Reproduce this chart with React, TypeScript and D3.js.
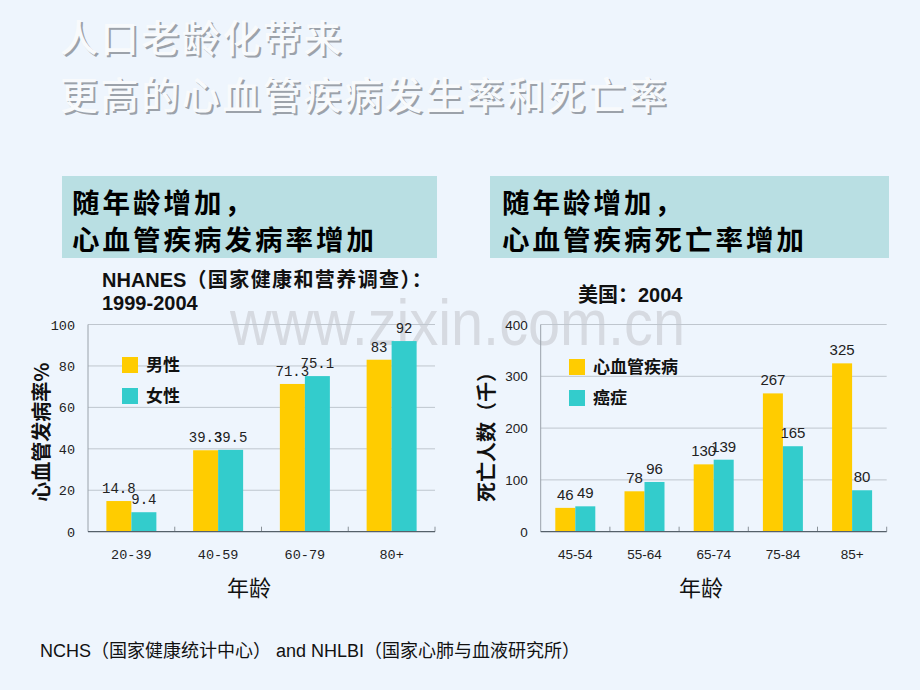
import React from 'react';
import * as d3 from 'd3';

// 左图：心血管发病率 (%)
const ageGroupsA = ['20-39', '40-59', '60-79', '80+'];
const maleRate = [14.8, 39.3, 71.3, 83];
const femaleRate = [9.4, 39.5, 75.1, 92];
const seriesA = ['男性', '女性'];

// 右图：死亡人数（千）
const ageGroupsB = ['45-54', '55-64', '65-74', '75-84', '85+'];
const cvdDeaths = [46, 78, 130, 267, 325];
const cancerDeaths = [49, 96, 139, 165, 80];
const seriesB = ['心血管疾病', '癌症'];

const W = 920;
const H = 690;
const BG = '#EEF5FD';
const YELLOW = '#FFCC00';
const TEAL = '#33CCCC';
const BOX = '#B9DFE3';
const GRID = '#BFC6CE';
const CJK = '"Noto Sans CJK SC", sans-serif';
const SANS = '"Liberation Sans", "Noto Sans CJK SC", sans-serif';
const MONO = '"Liberation Mono", monospace';

interface ChartProps {
  cats: string[];
  a: number[];
  b: number[];
  names: string[];
  yMax: number;
  nTicks: number;
  left: number;
  right: number;
  barW: number;
  numFont: string;
  labelFont: string;
  labelSize: number;
  yTitle: string;
  yTitleX: number;
  xTitleX: number;
  legendX: number;
  legendY: number;
}

const BarChart: React.FC<ChartProps> = (p) => {
  const top = 324.5;
  const bottom = 531.7;
  const x = d3.scaleBand<string>().domain(p.cats).range([p.left, p.right]).padding(0);
  const bw = x.bandwidth();
  const x1 = d3
    .scaleBand<string>()
    .domain(['a', 'b'])
    .range([bw / 2 - p.barW, bw / 2 + p.barW]);
  const y = d3.scaleLinear().domain([0, p.yMax]).range([bottom, top]);
  const ticks = y.ticks(p.nTicks);
  const rows = p.cats.map((c, i) => ({ c, a: p.a[i], b: p.b[i] }));

  return (
    <g>
      {ticks.map((t) => (
        <g key={t}>
          {t > 0 && (
            <line x1={p.left} x2={p.right} y1={y(t)} y2={y(t)} stroke={GRID} strokeWidth={1} />
          )}
          <text
            x={p.left - 13}
            y={y(t) + 5}
            textAnchor="end"
            fontFamily={p.numFont}
            fontSize={13.5}
            fill="#222"
          >
            {t}
          </text>
        </g>
      ))}
      <line x1={p.left} x2={p.left} y1={top} y2={bottom} stroke="#9AA2AA" strokeWidth={1} />
      {rows.map((r) => {
        const x0 = x(r.c)!;
        return (
          <g key={r.c}>
            <rect
              x={x0 + x1('a')!}
              y={y(r.a)}
              width={x1.bandwidth()}
              height={bottom - y(r.a)}
              fill={YELLOW}
            />
            <rect
              x={x0 + x1('b')!}
              y={y(r.b)}
              width={x1.bandwidth()}
              height={bottom - y(r.b)}
              fill={TEAL}
            />
            <text
              x={x0 + x1('a')! + x1.bandwidth() / 2}
              y={y(r.a) - 8}
              textAnchor="middle"
              fontFamily={p.labelFont}
              fontSize={p.labelSize}
              fill="#222"
            >
              {r.a}
            </text>
            <text
              x={x0 + x1('b')! + x1.bandwidth() / 2}
              y={y(r.b) - 8}
              textAnchor="middle"
              fontFamily={p.labelFont}
              fontSize={p.labelSize}
              fill="#222"
            >
              {r.b}
            </text>
            <text
              x={x0 + bw / 2}
              y={559}
              textAnchor="middle"
              fontFamily={p.numFont}
              fontSize={13.5}
              fill="#222"
            >
              {r.c}
            </text>
          </g>
        );
      })}
      {p.cats.map((c, i) =>
        i > 0 ? (
          <line
            key={c}
            x1={x(c)!}
            x2={x(c)!}
            y1={bottom - 5}
            y2={bottom}
            stroke="#8A9299"
            strokeWidth={1}
          />
        ) : null
      )}
      <line x1={p.right} x2={p.right} y1={bottom - 5} y2={bottom} stroke="#8A9299" />
      <line x1={p.left} x2={p.right} y1={bottom} y2={bottom} stroke="#55606A" strokeWidth={1.2} />

      <text
        transform={`translate(${p.yTitleX},${(top + bottom) / 2 + 4}) rotate(-90)`}
        textAnchor="middle"
        fontFamily={CJK}
        fontWeight={700}
        fontSize={20}
        dy={7}
        fill="#111"
      >
        {p.yTitle}
      </text>
      <text x={p.xTitleX} y={596} textAnchor="middle" fontFamily={CJK} fontSize={22} fill="#111">
        年龄
      </text>

      {p.names.map((n, i) => (
        <g key={n} transform={`translate(${p.legendX},${p.legendY + i * 31})`}>
          <rect x={0} y={0} width={16} height={16} fill={i === 0 ? YELLOW : TEAL} />
          <text x={24} y={14} fontFamily={CJK} fontWeight={700} fontSize={17} fill="#111">
            {n}
          </text>
        </g>
      ))}
    </g>
  );
};

export default function App() {
  const titleLines = ['人口老龄化带来', '更高的心血管疾病发生率和死亡率'];
  return (
    <svg
      width={W}
      height={H}
      style={{ position: 'absolute', left: 0, top: 0, display: 'block' }}
    >
      <rect width={W} height={H} fill={BG} />

      {titleLines.map((t, i) => (
        <g key={t}>
          <text
            x={62}
            y={54 + i * 57}
            fontFamily={CJK}
            fontWeight={500}
            fontSize={38}
            letterSpacing={2.6}
            fill="#9CA2AA"
          >
            {t}
          </text>
          <text
            x={60}
            y={52 + i * 57}
            fontFamily={CJK}
            fontWeight={500}
            fontSize={38}
            letterSpacing={2.6}
            fill="#F8FAFC"
          >
            {t}
          </text>
        </g>
      ))}

      {/* 水印 */}
      <text
        x={230}
        y={345}
        fontFamily={SANS}
        fontSize={64}
        textLength={455}
        lengthAdjust="spacingAndGlyphs"
        fill="#D6DAE1"
      >
        www.zixin.com.cn
      </text>

      {/* 标题框 */}
      <rect x={62} y={176} width={375} height={82} fill={BOX} />
      <rect x={490} y={176} width={399} height={82} fill={BOX} />
      {[
        { x: 72, l2: '心血管疾病发病率增加' },
        { x: 502, l2: '心血管疾病死亡率增加' },
      ].map((b) => (
        <g key={b.l2} fontFamily={CJK} fontWeight={700} fontSize={27.5} fill="#000" letterSpacing={3}>
          <text x={b.x} y={213}>
            随年龄增加，
          </text>
          <text x={b.x} y={250}>
            {b.l2}
          </text>
        </g>
      ))}

      {/* 副标题 */}
      <text x={102} y={287} fontFamily={SANS} fontWeight={700} fontSize={20} fill="#111">
        NHANES<tspan letterSpacing={1.4}>（国家健康和营养调查）：</tspan>
      </text>
      <text x={102} y={310} fontFamily={SANS} fontWeight={700} fontSize={20} fill="#111">
        1999-2004
      </text>
      <text x={578} y={302} fontFamily={SANS} fontWeight={700} fontSize={20} fill="#111">
        美国：2004
      </text>

      <BarChart
        cats={ageGroupsA}
        a={maleRate}
        b={femaleRate}
        names={seriesA}
        yMax={100}
        nTicks={5}
        left={88}
        right={435}
        barW={25}
        numFont={MONO}
        labelFont={MONO}
        labelSize={14}
        yTitle="心血管发病率%"
        yTitleX={42}
        xTitleX={249}
        legendX={122}
        legendY={357}
      />
      <BarChart
        cats={ageGroupsB}
        a={cvdDeaths}
        b={cancerDeaths}
        names={seriesB}
        yMax={400}
        nTicks={4}
        left={540.7}
        right={886.7}
        barW={20}
        numFont={SANS}
        labelFont={SANS}
        labelSize={15}
        yTitle="死亡人数（千）"
        yTitleX={487}
        xTitleX={701}
        legendX={569}
        legendY={359}
      />

      <text x={40} y={657} fontFamily={SANS} fontSize={18} fill="#111">
        NCHS（国家健康统计中心） and NHLBI（国家心肺与血液研究所）
      </text>
    </svg>
  );
}
